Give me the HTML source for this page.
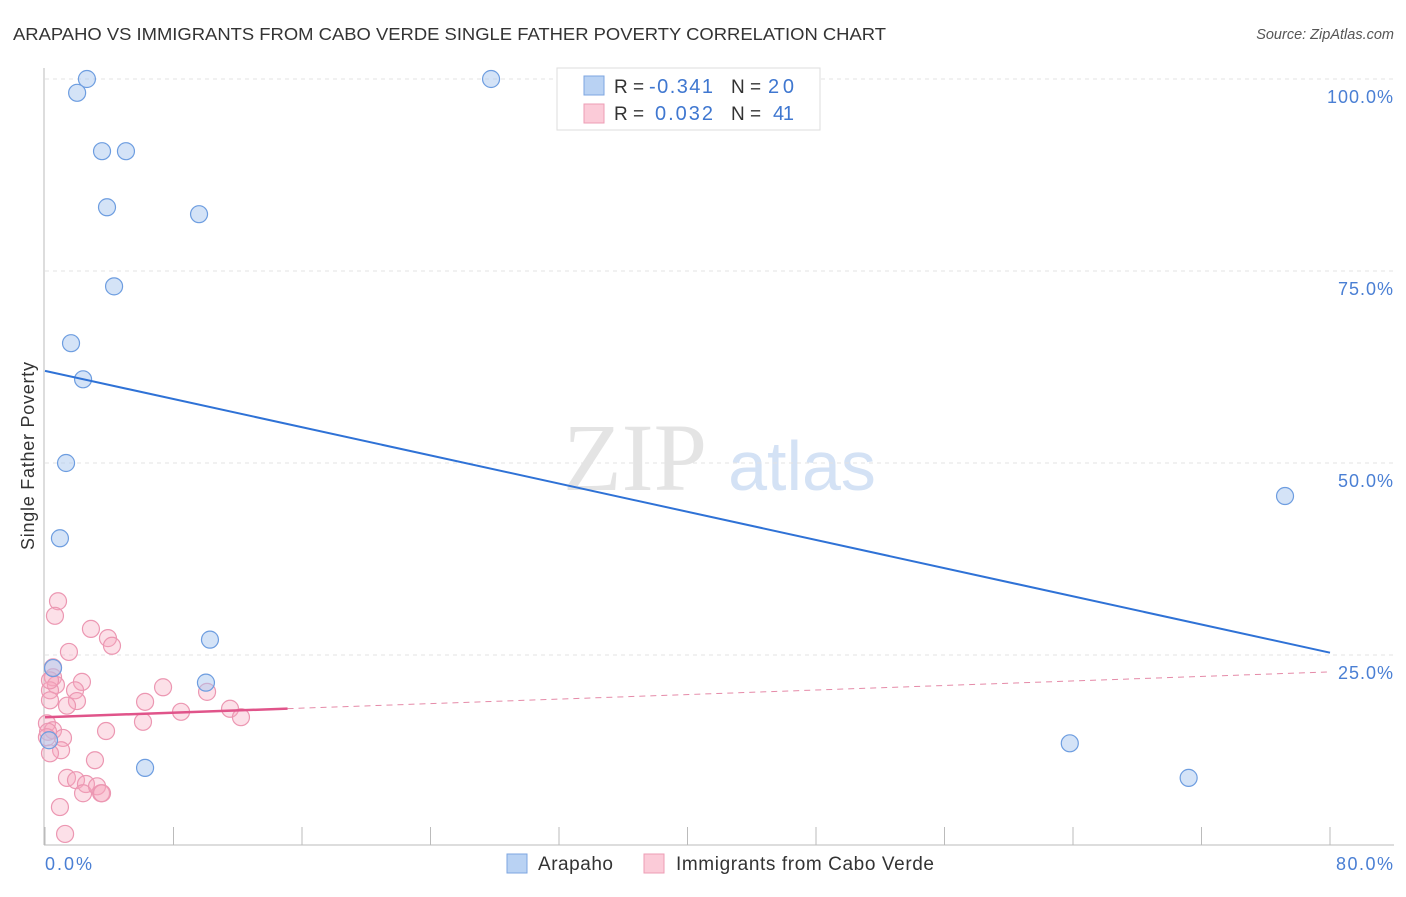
<!DOCTYPE html>
<html><head><meta charset="utf-8"><style>
body{margin:0;background:#fff;font-family:"Liberation Sans",sans-serif;}
svg text{font-family:"Liberation Sans",sans-serif;}
</style></head><body>
<svg id="chart" width="1406" height="892" xmlns="http://www.w3.org/2000/svg">
<text x="13" y="40" font-size="17.5" fill="#333" textLength="873" lengthAdjust="spacingAndGlyphs">ARAPAHO VS IMMIGRANTS FROM CABO VERDE SINGLE FATHER POVERTY CORRELATION CHART</text>
<text x="1394" y="39" font-size="14.5" fill="#555" font-style="italic" text-anchor="end">Source: ZipAtlas.com</text>
<g>
<text x="635" y="490" font-size="96" fill="#e4e4e4" text-anchor="middle" font-family="Liberation Serif" style="font-family:'Liberation Serif',serif">ZIP</text>
<text x="802" y="490" font-size="70" fill="#d4e2f5" text-anchor="middle">atlas</text>
</g>
<g id="grid"></g>
<g id="axes"></g>
<g id="marks"></g>
<text transform="translate(34,456) rotate(-90)" font-size="18" fill="#333" text-anchor="middle" textLength="188">Single Father Poverty</text>
<text x="45" y="870" font-size="18" fill="#4a7fd4" textLength="47">0.0%</text>
<text x="1393" y="870" font-size="18" fill="#4a7fd4" text-anchor="end" textLength="57">80.0%</text>
<g>
<rect x="557" y="68" width="263" height="62" fill="#fff" stroke="#ddd"/>
<rect x="584" y="76" width="20" height="19" fill="#b9d2f3" stroke="#7da6e0"/>
<rect x="584" y="104" width="20" height="19" fill="#fbcbd8" stroke="#ee9db5"/>
<text x="614" y="93" font-size="19" fill="#333">R = </text><text x="649" y="93" font-size="20" fill="#3f77d0" textLength="64">-0.341</text>
<text x="731" y="93" font-size="19" fill="#333">N = </text><text x="768" y="93" font-size="20" fill="#3f77d0" textLength="26">20</text>
<text x="614" y="120" font-size="19" fill="#333">R = </text><text x="655" y="120" font-size="20" fill="#3f77d0" textLength="58">0.032</text>
<text x="731" y="120" font-size="19" fill="#333">N = </text><text x="773" y="120" font-size="20" fill="#3f77d0" textLength="21">41</text>
</g>
<g>
<rect x="507" y="854" width="20" height="19" fill="#b9d2f3" stroke="#7da6e0"/>
<text x="538" y="870" font-size="19" fill="#333" textLength="75">Arapaho</text>
<rect x="644" y="854" width="20" height="19" fill="#fbcbd8" stroke="#ee9db5"/>
<text x="676" y="870" font-size="19" fill="#333" textLength="258">Immigrants from Cabo Verde</text>
</g>
</svg>
<script>
const yTicks=[25,50,75,100];
const yTickLabels=["25.0%","50.0%","75.0%","100.0%"];
const xTicks=[0,8,16,24,32,40,48,56,64,72,80];
const blueX=[2.61,2.0,3.55,5.04,3.86,9.59,4.30,1.62,2.37,1.31,0.93,10.27,10.02,6.23,27.77,77.2,63.8,71.2,0.5,0.25];
const blueY=[100,98.2,90.6,90.6,83.3,82.4,73.0,65.6,60.9,50.0,40.2,27.0,21.4,10.3,100,45.7,13.5,9.0,23.3,13.9];
const pinkX=[0.81,0.62,2.86,3.92,4.17,1.49,0.5,0.5,2.30,0.68,7.35,10.09,1.87,1.99,0.31,6.23,1.37,0.31,8.47,11.52,12.20,6.10,3.80,0.12,0.5,1.12,0.19,1.0,0.31,3.11,1.37,1.93,2.55,2.37,3.24,3.49,3.55,0.93,1.25,0.12,0.31];
const pinkY=[32.0,30.1,28.4,27.2,26.2,25.4,23.4,22.1,21.5,21.1,20.8,20.2,20.4,19.0,20.4,18.9,18.4,19.1,17.6,18.0,16.9,16.3,15.1,16.1,15.2,14.2,15.0,12.6,12.2,11.3,9.0,8.7,8.2,7.0,7.9,7.0,7.0,5.2,1.7,14.3,21.7];
const blueTrend=[62.0,25.3];
const pinkTrend=[16.9,22.8];
const pinkSolidEnd=15.1;
const X=v=>45+v/80*1285, Y=v=>847-v/100*768;
const NS="http://www.w3.org/2000/svg";
function mk(tag,attrs,parent){const e=document.createElementNS(NS,tag);for(const k in attrs)e.setAttribute(k,attrs[k]);document.getElementById(parent).appendChild(e);return e;}
yTicks.forEach((t,i)=>{
 const l=mk('line',{x1:45,x2:1394,y1:Y(t),y2:Y(t),stroke:'#e3e3e3','stroke-dasharray':'4,4'},'grid');
 
 
 const tx=mk('text',{x:1393,y:Y(t)+24,'font-size':18,fill:'#4a7fd4','text-anchor':'end',textLength:(yTickLabels[i].length*11)},'grid');
 tx.textContent=yTickLabels[i];
 
 
});
const ya=mk('line',{x1:44,x2:44,y1:68,y2:845,stroke:'#bbb'},'axes');


const xa=mk('line',{x1:44,x2:1394,y1:845,y2:845,stroke:'#bbb'},'axes');


xTicks.forEach(t=>{
 const l=mk('line',{x1:X(t),x2:X(t),y1:827,y2:845,stroke:'#bbb'},'axes');
 
 
});
pinkX.forEach((v,i)=>{
 const c=mk('circle',{cx:X(v),cy:Y(pinkY[i]),r:8.5,fill:'rgba(245,165,190,0.35)',stroke:'#ec97b2','stroke-width':1.2},'marks');
 
 
});
blueX.forEach((v,i)=>{
 const c=mk('circle',{cx:X(v),cy:Y(blueY[i]),r:8.5,fill:'rgba(170,200,240,0.5)',stroke:'#6d9de0','stroke-width':1.2},'marks');
 
 
});
const bt=mk('line',{x1:X(0),y1:Y(blueTrend[0]),x2:X(80),y2:Y(blueTrend[1]),stroke:'#2f72d6','stroke-width':2},'marks');


const pAt=x=>pinkTrend[0]+(pinkTrend[1]-pinkTrend[0])*x/80;
const pd=mk('line',{x1:X(pinkSolidEnd),y1:Y(pAt(pinkSolidEnd)),x2:X(80),y2:Y(pinkTrend[1]),stroke:'#e58aa8','stroke-width':1,'stroke-dasharray':'6,5'},'marks');


const ps=mk('line',{x1:X(0),y1:Y(pinkTrend[0]),x2:X(pinkSolidEnd),y2:Y(pAt(pinkSolidEnd)),stroke:'#e0548a','stroke-width':2.5},'marks');


</script>
</body></html>
